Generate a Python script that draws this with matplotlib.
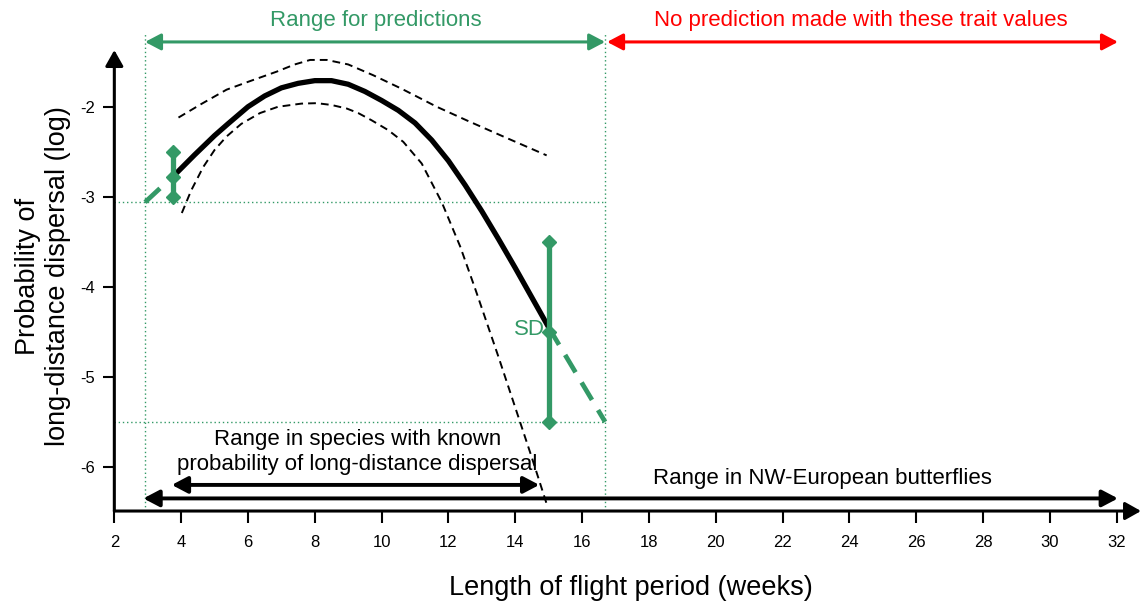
import matplotlib
matplotlib.use('Agg')
import matplotlib.pyplot as plt

plt.rcParams['font.family'] = ['Liberation Sans', 'DejaVu Sans']
plt.rcParams['axes.unicode_minus'] = False

GREEN = '#339966'
RED = '#ff0000'

# fitted relationship (log probability of long-distance dispersal vs flight period)
fit_x = [3.85, 4.4, 5.0, 5.4, 6.0, 6.5, 7.0, 7.5, 8.0, 8.5, 9.0, 9.5, 10.0,
         10.5, 11.0, 11.5, 12.0, 12.5, 13.0, 13.5, 14.0, 14.5, 15.0]
fit_y = [-2.74, -2.535, -2.32, -2.19, -2.0, -1.88, -1.79, -1.74, -1.71, -1.71,
         -1.75, -1.83, -1.93, -2.04, -2.18, -2.37, -2.6, -2.87, -3.16, -3.47,
         -3.79, -4.12, -4.45]

# confidence band around the fit
upper_x = [3.92, 4.6, 5.36, 6.1, 6.86, 7.4, 7.86, 8.36, 9.0, 9.75, 10.6,
           11.65, 12.6, 13.64, 14.94]
upper_y = [-2.12, -1.97, -1.81, -1.71, -1.61, -1.53, -1.48, -1.48, -1.53,
           -1.65, -1.8, -2.0, -2.16, -2.33, -2.54]
lower_x = [4.02, 4.3, 4.66, 5.0, 5.36, 5.8, 6.36, 6.9, 7.6, 8.06, 8.5, 8.96,
           9.3, 9.7, 10.2, 10.65, 11.2, 11.8, 12.35, 12.8, 13.5, 14.0, 14.5, 14.94]
lower_y = [-3.18, -2.93, -2.67, -2.48, -2.33, -2.19, -2.07, -2.0, -1.965, -1.96,
           -1.98, -2.02, -2.07, -2.15, -2.26, -2.39, -2.63, -3.06, -3.55, -4.02,
           -4.78, -5.34, -5.9, -6.41]

# spread (SD) at both ends of the data
sd_x = [3.77, 15.0]
sd_mid = [-2.78, -4.5]
sd_low = [-3.0, -5.5]
sd_high = [-2.5, -3.5]

# extrapolation of the fit to the edges of the prediction window
ext_left_x = [2.92, 3.85]
ext_left_y = [-3.06, -2.74]
ext_right_x = [15.0, 16.69]
ext_right_y = [-4.45, -5.5]

# ranges along the trait axis
pred_range = [2.92, 16.69]
pred_limits = [-3.06, -5.5]
no_pred_range = [16.75, 32.04]
known_range = [3.72, 14.72]
nw_range = [2.87, 32.04]

xticks = list(range(2, 33, 2))
yticks = [-6, -5, -4, -3, -2]

fig = plt.figure(figsize=(11.41, 6.08), dpi=100)
ax = fig.add_axes([0.1002, 0.1595, 0.8998, 0.7582])
ax.set_xlim(2, 32.73)
ax.set_ylim(-6.49, -1.37)
for s in ax.spines.values():
    s.set_visible(False)

# axes drawn as arrows
axis_arrow = dict(arrowstyle='-|>,head_length=0.8,head_width=0.45', color='black',
                  lw=2.2, shrinkA=0, shrinkB=0, mutation_scale=12)
ax.annotate('', xy=(1, 0), xytext=(0, 0), xycoords='axes fraction',
            arrowprops=axis_arrow, annotation_clip=False)
ax.annotate('', xy=(0, 1), xytext=(0, 0), xycoords='axes fraction',
            arrowprops=axis_arrow, annotation_clip=False)

ax.set_xticks(xticks)
ax.set_yticks(yticks)
ax.tick_params(axis='x', direction='out', length=8.5, width=1.5, pad=9, labelsize=12)
ax.tick_params(axis='y', direction='out', length=8, width=1.5, pad=6, labelsize=12)

# prediction window (dotted)
dot = dict(color=GREEN, lw=1.0, ls=(0, (1, 2)), clip_on=False)
for xv in pred_range:
    ax.plot([xv, xv], [-6.49, -1.18], **dot)
for yv in pred_limits:
    ax.plot([2, pred_range[1]], [yv, yv], **dot)

# fit and confidence band
ax.plot(fit_x, fit_y, color='black', lw=3.8, solid_capstyle='butt',
        solid_joinstyle='round')
ax.plot(upper_x, upper_y, color='black', lw=1.4, dashes=(4, 2.6))
ax.plot(lower_x, lower_y, color='black', lw=1.4, dashes=(4, 2.6), clip_on=False)

# extrapolation
ax.plot(ext_left_x, ext_left_y, color=GREEN, lw=3.4, dashes=(4.3, 2.5))
ax.plot(ext_right_x, ext_right_y, color=GREEN, lw=3.4, dashes=(4.3, 2.5))

# SD bars with diamond ends
for x, lo, hi, mid in zip(sd_x, sd_low, sd_high, sd_mid):
    ax.plot([x, x], [lo, hi], color=GREEN, lw=3.8, solid_capstyle='butt')
    ax.plot([x, x, x], [lo, mid, hi], ls='none', marker='D', ms=6.8,
            color=GREEN, mec=GREEN)
ax.text(14.88, -4.47, 'SD', color=GREEN, fontsize=16, ha='right', va='center')

# range arrows
def range_arrow(x0, x1, y, color, lw):
    ax.annotate('', xy=(x1, y), xytext=(x0, y),
                arrowprops=dict(arrowstyle='<|-|>,head_length=0.95,head_width=0.5',
                                color=color, lw=lw, shrinkA=0, shrinkB=0,
                                mutation_scale=10),
                annotation_clip=False)

range_arrow(pred_range[0], pred_range[1], -1.28, GREEN, 2.2)
range_arrow(no_pred_range[0], no_pred_range[1], -1.28, RED, 2.2)
range_arrow(known_range[0], known_range[1], -6.2, 'black', 2.8)
range_arrow(nw_range[0], nw_range[1], -6.35, 'black', 2.8)

ax.text(9.83, -1.04, 'Range for predictions', color=GREEN, fontsize=16,
        ha='center', va='center', clip_on=False)
ax.text(24.35, -1.04, 'No prediction made with these trait values', color=RED,
        fontsize=16, ha='center', va='center', clip_on=False)
ax.text(9.27, -5.83, 'Range in species with known\nprobability of long-distance dispersal',
        fontsize=16, ha='center', va='center', linespacing=1.25)
ax.text(23.19, -6.13, 'Range in NW-European butterflies', fontsize=16,
        ha='center', va='center')

fig.text(43 / 1141, 1 - 276 / 608, 'Probability of\nlong-distance dispersal (log)',
         rotation=90, ha='center', va='center', fontsize=19.5, linespacing=1.2)
fig.text(631 / 1141, 1 - 595 / 608, 'Length of flight period (weeks)',
         ha='center', va='baseline', fontsize=19.5)

fig.savefig('out.png', dpi=100)
